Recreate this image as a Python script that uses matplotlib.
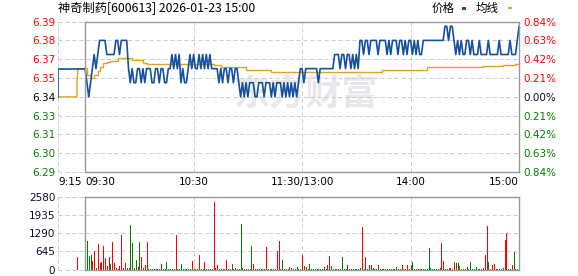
import matplotlib
matplotlib.use("Agg")
import matplotlib.pyplot as plt
from matplotlib.patches import Rectangle

plt.rcParams["font.family"] = ["DejaVu Sans"]

title = "神奇制药[600613] 2026-01-23 15:00"
prev_close = 6.34
pct_levels = [0.84, 0.63, 0.42, 0.21, 0.00, -0.21, -0.42, -0.63, -0.84]
price_labels = ["6.39", "6.38", "6.37", "6.35", "6.34", "6.33", "6.31", "6.30", "6.29"]
pct_labels = ["0.84%", "0.63%", "0.42%", "0.21%", "0.00%", "0.21%", "0.42%", "0.63%", "0.84%"]
vol_levels = [0, 645, 1290, 1935, 2580]
vol_labels = ["0", "645", "1290", "1935", "2580"]
time_ticks = [-15, 0, 60, 120, 180, 240]
time_labels = ["9:15", "09:30", "10:30", "11:30/13:00", "14:00", "15:00"]

# call auction 9:15-9:30 (minutes relative to 09:30)
pre_t = [-15, -15, 0]
pre_price = [6.34, 6.36, 6.36]
pre_avg_t = [-15, -4.5, -4.5, -4, 0]
pre_avg = [6.34, 6.34, 6.35, 6.36, 6.36]
pre_vol_t = [-4.5]
pre_vol = [454]

# one value per minute, 09:30-11:30 then 13:01-15:00
price = [
    6.36, 6.35, 6.34, 6.35, 6.36, 6.37, 6.36, 6.37, 6.38, 6.38,
    6.38, 6.38, 6.37, 6.37, 6.37, 6.37, 6.37, 6.38, 6.38, 6.37,
    6.38, 6.38, 6.38, 6.38, 6.36, 6.35, 6.36, 6.35, 6.35, 6.36,
    6.36, 6.35, 6.36, 6.35, 6.36, 6.36, 6.36, 6.35, 6.35, 6.36,
    6.36, 6.35, 6.36, 6.36, 6.35, 6.35, 6.36, 6.36, 6.37, 6.36,
    6.37, 6.36, 6.37, 6.35, 6.36, 6.35, 6.35, 6.36, 6.37, 6.36,
    6.37, 6.36, 6.36, 6.37, 6.36, 6.37, 6.36, 6.37, 6.36, 6.37,
    6.36, 6.36, 6.36, 6.36, 6.35, 6.36, 6.35, 6.36, 6.36, 6.35,
    6.36, 6.36, 6.35, 6.36, 6.36, 6.35, 6.34, 6.35, 6.34, 6.35,
    6.34, 6.35, 6.35, 6.35, 6.34, 6.34, 6.35, 6.35, 6.35, 6.34,
    6.35, 6.35, 6.35, 6.34, 6.35, 6.34, 6.35, 6.35, 6.35, 6.34,
    6.35, 6.34, 6.35, 6.34, 6.35, 6.34, 6.35, 6.34, 6.35, 6.36,
    6.36, 6.35, 6.36, 6.36, 6.36, 6.36, 6.36, 6.36, 6.36, 6.35,
    6.36, 6.36, 6.36, 6.36, 6.36, 6.36, 6.36, 6.36, 6.37, 6.37,
    6.37, 6.36, 6.37, 6.37, 6.36, 6.37, 6.37, 6.36, 6.37, 6.36,
    6.37, 6.36, 6.38, 6.38, 6.37, 6.38, 6.38, 6.37, 6.38, 6.38,
    6.38, 6.38, 6.37, 6.38, 6.38, 6.38, 6.38, 6.37, 6.38, 6.37,
    6.38, 6.38, 6.38, 6.37, 6.38, 6.38, 6.37, 6.38, 6.37, 6.38,
    6.38, 6.37, 6.38, 6.37, 6.38, 6.37, 6.37, 6.38, 6.38, 6.38,
    6.38, 6.38, 6.38, 6.38, 6.38, 6.38, 6.38, 6.38, 6.38, 6.39,
    6.39, 6.38, 6.39, 6.39, 6.38, 6.37, 6.38, 6.37, 6.38, 6.37,
    6.37, 6.38, 6.38, 6.37, 6.38, 6.37, 6.37, 6.37, 6.38, 6.37,
    6.37, 6.37, 6.37, 6.38, 6.37, 6.37, 6.37, 6.37, 6.37, 6.38,
    6.37, 6.37, 6.37, 6.37, 6.37, 6.38, 6.37, 6.37, 6.37, 6.38,
    6.39,
]

# average price, read as steps (minute where a new level starts)
avg_t = [0, 1, 3, 5, 7, 8, 10, 12, 14, 18, 26, 32, 34, 71, 75, 89, 103, 164, 189, 220, 231, 238, 240]
avg_v = [6.3604, 6.3556, 6.3533, 6.3556, 6.3580, 6.3615, 6.3639, 6.3650, 6.3655, 6.3674,
         6.3662, 6.3643, 6.3632, 6.3627, 6.3611, 6.3591, 6.3579, 6.3591, 6.3610, 6.3616,
         6.3625, 6.3634, 6.3646]

volume = [
    30, 1027, 490, 514, 310, 669, 40, 908, 227, 275,
    848, 394, 107, 454, 203, 991, 239, 60, 30, 107,
    1230, 40, 239, 40, 60, 1565, 944, 60, 346, 72,
    991, 430, 60, 167, 991, 30, 30, 30, 30, 30,
    30, 30, 191, 30, 30, 275, 30, 30, 30, 30,
    1230, 30, 30, 203, 30, 30, 30, 30, 30, 299,
    30, 30, 30, 525, 30, 30, 275, 30, 30, 30,
    30, 2400, 60, 167, 30, 30, 30, 30, 346, 30,
    30, 203, 30, 60, 30, 30, 1600, 60, 30, 30,
    30, 30, 848, 203, 30, 30, 30, 30, 30, 30,
    788, 30, 30, 30, 30, 30, 669, 1027, 30, 346,
    30, 30, 30, 72, 50, 30, 30, 83, 30, 30,
    509, 130, 83, 30, 190, 30, 30, 30, 30, 30,
    30, 30, 83, 30, 154, 473, 130, 30, 30, 30,
    30, 30, 438, 30, 30, 154, 30, 30, 30, 30,
    30, 30, 60, 1515, 30, 438, 30, 154, 154, 60,
    30, 30, 154, 30, 30, 30, 30, 30, 30, 30,
    30, 30, 83, 30, 30, 154, 30, 30, 154, 30,
    154, 249, 30, 30, 30, 30, 30, 30, 30, 30,
    769, 60, 30, 30, 30, 30, 60, 947, 296, 30,
    30, 60, 60, 30, 249, 225, 225, 130, 30, 30,
    30, 100, 30, 260, 30, 30, 100, 30, 30, 30,
    60, 509, 1550, 260, 30, 154, 190, 30, 30, 30,
    30, 50, 1041, 1302, 30, 30, 154, 615, 30, 30,
    947,
]
green_minutes = [1, 2, 3, 6, 14, 23, 25, 26, 28, 30, 45, 53, 68, 81, 86, 87, 92, 109,
                 114, 124, 142, 181, 190, 191, 205, 206, 213, 216, 223, 237]

BLUE = "#14509f"
ORANGE = "#dfa22a"
RED = "#ff0000"
GREEN = "#008000"
SOLID = "#999999"
DASH = "#cccccc"
W, H = 578, 276


def frame(a, ylo, yhi, xlo, xhi):
    for s in a.spines.values():
        s.set_visible(False)
    kw = dict(color=SOLID, lw=1.0, clip_on=False, zorder=6)
    a.plot([0, 0], [ylo, yhi], **kw)
    a.plot([xhi, xhi], [ylo, yhi], **kw)
    a.plot([0, xhi], [yhi, yhi], **kw)
    a.plot([0, xhi], [ylo, ylo], **kw)
    dkw = dict(color=DASH, lw=0.72, ls=(0, (4, 3)), clip_on=False, zorder=1)
    a.plot([xlo, 0], [yhi, yhi], **dkw)
    a.plot([xlo, 0], [ylo, ylo], **dkw)


def draw():
    fig = plt.figure(figsize=(W / 100, H / 100), dpi=100)
    left, right = 58, 520
    ax = fig.add_axes([left / W, 1 - 172 / H, (right - left) / W, 150.3 / H])
    axv = fig.add_axes([left / W, 1 - 269.5 / H, (right - left) / W, 72.8 / H])

    xlo, xhi = -15, 240.5
    ylo = prev_close * (1 - 0.0084)
    yhi = prev_close * (1 + 0.0084)
    levels = [prev_close * (1 + p / 100) for p in pct_levels]

    ax.set_xlim(xlo, xhi)
    ax.set_ylim(ylo, yhi)
    ax.set_yticks(levels, price_labels)
    ax.set_xticks(time_ticks, time_labels)
    ax.grid(True, color=DASH, lw=0.72, ls=(0, (4, 3)))
    ax.set_axisbelow(True)
    ax.tick_params(axis="y", length=0, pad=2, labelsize=7.5)
    ax.tick_params(axis="x", length=0, pad=3.5, labelsize=7.5)
    for lab, p in zip(ax.get_yticklabels(), pct_levels):
        lab.set_color(RED if p > 0 else (GREEN if p < 0 else "black"))
    aligns = ["left", "left", "center", "center", "center", "right"]
    for lab, ha in zip(ax.get_xticklabels(), aligns):
        lab.set_ha(ha)
    frame(ax, ylo, yhi, xlo, 240)

    axr = ax.twinx()
    axr.set_ylim(ylo, yhi)
    axr.set_yticks(levels, pct_labels)
    axr.tick_params(axis="y", length=0, pad=2.5, labelsize=7.5)
    for s in axr.spines.values():
        s.set_visible(False)
    for lab, p in zip(axr.get_yticklabels(), pct_levels):
        lab.set_color(RED if p > 0 else (GREEN if p < 0 else "#0c0c30"))

    ax.text(0.537, 0.52, "东方财富", transform=ax.transAxes, ha="center", va="center",
            fontsize=26, fontweight="bold", color="#e8e8ec",
            family=["Noto Sans CJK SC", "DejaVu Sans"], zorder=0.5)

    minutes = list(range(len(price)))
    ax.plot(pre_avg_t, pre_avg, color=ORANGE, lw=1.0, zorder=3)
    ax.plot(pre_t, pre_price, color=BLUE, lw=1.2, zorder=4)
    ax.plot(minutes, price, color=BLUE, lw=1.2, zorder=4)
    ax.plot(avg_t, avg_v, color=ORANGE, lw=1.0, drawstyle="steps-post", zorder=3)

    # volume
    axv.set_xlim(xlo, xhi)
    axv.set_ylim(0, 2580)
    axv.set_yticks(vol_levels, vol_labels)
    axv.set_xticks([-15, 0, 60, 120, 180, 240])
    axv.tick_params(axis="x", length=0, labelbottom=False)
    axv.tick_params(axis="y", length=0, pad=2, labelsize=7.5, labelcolor="#0c0c30")
    axv.grid(True, color=DASH, lw=0.72, ls=(0, (4, 3)))
    axv.set_axisbelow(True)
    frame(axv, 0, 2580, xlo, 240)
    colors = [GREEN if m in green_minutes else RED for m in minutes]
    axv.vlines(minutes, 0, volume, colors=colors, lw=0.5, antialiased=False, zorder=3)
    axv.vlines(pre_vol_t, 0, pre_vol, colors=RED, lw=0.5, antialiased=False, zorder=3)

    fig.text(58 / W, 1 - 8.5 / H, title, va="center", ha="left", fontsize=8.8,
             family=["Noto Sans CJK SC", "DejaVu Sans"])
    fig.text(432 / W, 1 - 8.5 / H, "价格", va="center", ha="left", fontsize=8.3,
             family=["Noto Sans CJK SC", "DejaVu Sans"])
    fig.text(476 / W, 1 - 8.5 / H, "均线", va="center", ha="left", fontsize=8.3,
             family=["Noto Sans CJK SC", "DejaVu Sans"])
    fig.add_artist(Rectangle((462 / W, 1 - 10 / H), 3.5 / W, 3.3 / H,
                             transform=fig.transFigure, color=BLUE, lw=0))
    fig.add_artist(Rectangle((507.5 / W, 1 - 8.8 / H), 4.5 / W, 2.3 / H,
                             transform=fig.transFigure, color=ORANGE, lw=0))

    fig.savefig("out.png", dpi=100)


if __name__ == "__main__":
    draw()
